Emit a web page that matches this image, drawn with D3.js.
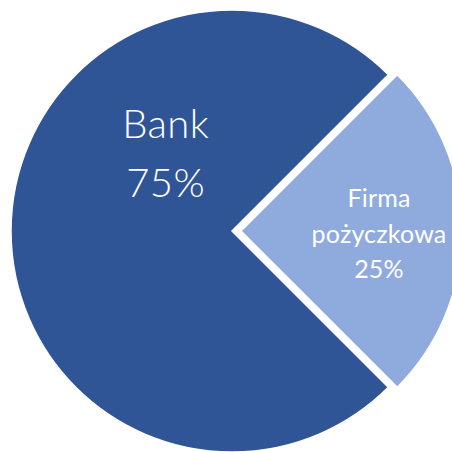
<!DOCTYPE html>
<html>
<head>
<meta charset="utf-8">
<script src="https://cdn.jsdelivr.net/npm/d3@7"></script>
<style>
  html, body { margin: 0; padding: 0; background: #ffffff; }
  svg { display: block; }
</style>
</head>
<body>
<div id="chart"></div>
<script>
// ---- Data ----
const categories = ["Bank", "Firma pożyczkowa"];
const values = [75, 25];
const labelLines = [["Bank", "75%"], ["Firma", "pożyczkowa", "25%"]];

// ---- Layout / style ----
const W = 452, H = 452;
const cx = 232, cy = 231, R = 221;
const colors = ["#2F5597", "#8FAADC"];
const explode = [0, 9];

const svg = d3.select("#chart").append("svg")
  .attr("width", W).attr("height", H);
svg.append("rect").attr("width", W).attr("height", H).attr("fill", "#ffffff");

const pie = d3.pie().sort(null)
  .startAngle(3 * Math.PI / 4)
  .endAngle(3 * Math.PI / 4 + 2 * Math.PI);
const arcs = pie(values);
const arc = d3.arc().innerRadius(0).outerRadius(R);

const g = svg.append("g").attr("transform", `translate(${cx},${cy})`);

const slices = g.selectAll("g.slice").data(arcs).join("g")
  .attr("class", "slice")
  .attr("transform", (d, i) => {
    const mid = (d.startAngle + d.endAngle) / 2;
    const [x, y] = d3.pointRadial(mid, explode[i]);
    return `translate(${x},${y})`;
  });

slices.append("path")
  .attr("d", arc)
  .attr("fill", (d, i) => colors[i])
  .attr("stroke", "#ffffff")
  .attr("stroke-width", 1.5)
  .attr("stroke-linejoin", "miter");

// label placement (angle clockwise from top, distance from slice centre)
const labelPos = [
  { angle: -0.726, r: 100 },
  { angle: Math.PI / 2, r: 138 }
];
const labelStyle = [
  { size: 40, weight: 300, lh: 59, first: -18, ls: 0.4 },
  { size: 25, weight: 400, lh: 35.5, first: -24, ls: 0.2 }
];

slices.each(function(d, i) {
  const [lx, ly] = d3.pointRadial(labelPos[i].angle, labelPos[i].r);
  const st = labelStyle[i];
  const lines = labelLines[i];
  const t = d3.select(this).append("text")
    .attr("text-anchor", "middle")
    .attr("fill", "#ffffff")
    .attr("font-family", "Lato, 'Open Sans', sans-serif")
    .attr("font-weight", st.weight)
    .attr("font-size", st.size)
    .attr("letter-spacing", st.ls);
  lines.forEach((line, k) => {
    t.append("tspan")
      .attr("x", lx)
      .attr("y", ly + st.first + k * st.lh)
      .text(line);
  });
});
</script>
</body>
</html>
